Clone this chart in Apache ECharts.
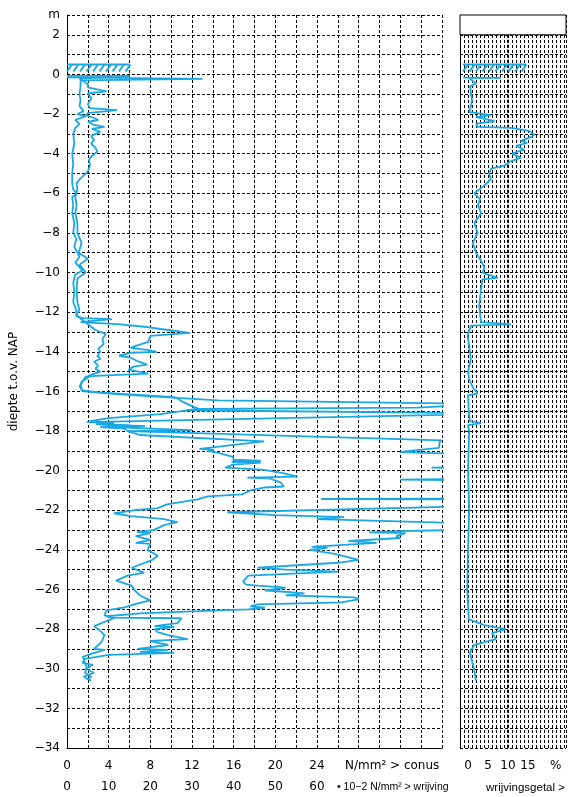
<!DOCTYPE html>
<html><head><meta charset="utf-8">
<script src="https://cdn.jsdelivr.net/npm/echarts@6/dist/echarts.min.js"></script>
<style>html,body{margin:0;padding:0;background:#fff}#c{width:569px;height:797px}</style>
</head><body><div id="c"></div>
<script>
// Conus (cone resistance, N/mm2) vs depth (m NAP)
const coneDepth = [-0.15,-0.22,-0.3,-0.6,-1.0,-1.3,-1.6,-1.85,-2.0,-2.1,-2.3,-2.5,-2.7,-3.0,-3.5,-4.0,-4.5,-5.0,-5.5,-5.8,-6.0,-6.2,-6.6,-7.0,-7.5,-8.0,-8.3,-8.7,-9.2,-9.5,-9.9,-10.1,-10.5,-11.0,-11.5,-11.9,-12.2,-12.3,-12.35,-12.5,-12.6,-12.75,-12.85,-13.05,-13.2,-13.5,-13.65,-13.8,-13.9,-14.0,-14.05,-14.2,-14.3,-14.5,-14.65,-14.75,-14.9,-15.1,-15.2,-15.25,-15.5,-15.75,-16.0,-16.15,-16.45,-16.65,-16.76,-16.82,-16.88,-16.95,-17.12,-17.55,-17.6,-17.65,-17.75,-17.8,-17.95,-18.0,-18.47,-18.5,-18.85,-19.05,-19.1,-19.2,-19.8,-19.85,-19.9,-20.4,-20.45,-20.5,-21.4,-21.43,-21.46,-21.75,-22.1,-22.25,-22.35,-22.45,-22.7,-22.95,-23.05,-23.12,-23.15,-23.3,-23.4,-23.55,-23.65,-23.85,-23.9,-24.0,-24.2,-24.5,-24.65,-24.9,-25.0,-25.1,-25.3,-25.6,-25.75,-25.8,-25.9,-26.05,-26.1,-26.2,-26.3,-26.4,-26.5,-26.65,-26.75,-26.85,-26.92,-27.0,-27.1,-27.2,-27.35,-27.42,-27.45,-27.7,-27.85,-27.9,-28.0,-28.15,-28.3,-28.5,-28.6,-28.8,-29.0,-29.05,-29.15,-29.2,-29.3,-29.5,-29.7,-29.8,-30.0,-30.2,-30.4,-30.6];
const coneValue = [0,13,1.3,1.3,1.2,1.3,1.2,1.6,1.0,1.8,0.8,1.2,0.8,0.6,0.7,0.5,0.6,0.5,0.5,0.6,0.9,0.5,0.6,0.5,0.7,0.6,0.9,0.7,1.2,0.8,1.5,0.8,0.6,0.7,0.6,0.9,0.9,1.5,4.3,1.3,4.8,7.7,9,11.8,8,7.8,6.9,6.1,7.7,8.6,6.1,5,6.1,6.9,7.7,6.4,5.9,7.8,3.2,1.8,1.5,1.2,1.6,5,14.5,42,36,33.6,12.8,11.5,42,1.9,4.5,2.8,7.5,4.2,12,5.8,36,35.8,35.7,32,34,42,42,35,42,42,32,42,42,24.4,42,42,15.4,20,26.6,24,42,42,32,29,32.5,31.6,32,27,29.7,23.5,25,23.3,25.7,28,26,18.3,21,26,17.4,16.9,17.2,18.3,21,19,20.6,22.8,21,27.6,28,26.3,18.3,17.6,19,17.4,12,7,3.8,4.2,11,10.6,8.4,10.3,8.4,8.7,9.7,11.6,8,9.7,6.8,9.7,7,10.3,4,1.7,1.5,2.5,1.8,2.6,1.6,2.3];

// Wrijving (sleeve friction, 10^-2 N/mm2) vs depth
const wrijvingDepth = [-0.07,-0.08,-0.2,-0.5,-0.65,-0.85,-0.95,-1.2,-1.5,-1.7,-1.8,-1.95,-2.05,-2.2,-2.3,-2.4,-2.55,-2.65,-2.75,-2.9,-3.1,-3.3,-3.5,-3.7,-3.9,-4.1,-4.3,-4.6,-4.9,-5.1,-5.3,-5.5,-5.8,-6.2,-6.6,-7.0,-7.5,-8.0,-8.5,-9.0,-9.3,-9.6,-10.0,-10.3,-11.0,-11.5,-11.9,-12.1,-12.25,-12.9,-13.1,-13.35,-13.6,-13.85,-14.0,-14.2,-14.35,-14.5,-14.7,-14.85,-15.0,-15.2,-15.35,-15.5,-15.7,-15.95,-16.05,-16.28,-16.32,-16.5,-16.88,-17.05,-17.15,-17.35,-17.5,-17.58,-17.65,-17.72,-17.8,-17.88,-18.0,-18.2,-18.52,-18.62,-18.9,-18.95,-19.0,-19.1,-19.3,-19.45,-19.5,-19.55,-19.6,-19.7,-19.85,-19.95,-20.1,-20.3,-20.35,-20.4,-20.6,-20.8,-20.85,-21.0,-21.1,-21.2,-21.3,-21.45,-21.7,-21.9,-22.0,-22.15,-22.3,-22.45,-22.6,-22.75,-23.0,-23.1,-23.15,-23.3,-23.5,-23.65,-23.7,-24.0,-24.3,-24.5,-24.9,-25.15,-25.3,-25.55,-25.8,-26.05,-26.3,-26.55,-26.7,-26.9,-27.05,-27.3,-27.45,-27.6,-27.85,-28.05,-28.3,-28.65,-29.0,-29.05,-29.25,-29.4,-29.7,-29.95,-30.2,-30.4,-30.55];
const wrijvingValue = [0,15,3,5,5,9.5,5,5.8,5,5.5,12,5,4.5,6.5,7.5,5,6.5,9,6,8,5.8,6.5,5.8,6.8,7.3,6,5.3,5.5,5,4,3,2.3,2.5,2,2.3,2,2.5,2.5,3.5,2.8,5,3,4.5,2.5,2.3,2.5,3,2.3,2.8,6.8,9.3,8.5,8.8,7.5,8,7.3,8,6.5,7.5,6.8,8,5.3,4.8,3.5,3.3,3.5,7.5,25,26.3,27.5,31.5,25.8,22.5,10,5.5,11.3,7,15,8,13.8,14.5,17.5,47.3,47.5,31.8,35.3,33.8,36.3,39.8,40,46.5,39.5,46.5,39.8,38,46.8,51.3,55.3,43.3,48.8,51.3,52,47.5,44,43,42,33.8,31.3,24,21.5,16,11.3,15.3,23.3,26.5,23.3,20.8,16.8,20,16.5,20,16.5,20,19.3,21.8,20.5,15.5,18.5,14.5,11.8,15.5,16.3,17.5,20,17,13.8,9.5,9,11.3,9.4,6.5,7.8,9,8.3,6.5,9,5.8,3.8,4.3,4.8,4.3,5.8,4.8];

// Wrijvingsgetal (friction ratio, %) vs depth
const ratioDepth = [-0.16,-0.17,-0.2,-0.3,-0.45,-0.6,-0.95,-1.3,-1.6,-1.9,-2.05,-2.15,-2.35,-2.5,-2.65,-2.7,-2.85,-2.95,-3.05,-3.15,-3.35,-3.45,-3.6,-3.8,-4.0,-4.2,-4.4,-4.6,-4.75,-5.0,-5.3,-5.6,-6.0,-6.3,-6.6,-7.0,-7.5,-8.0,-8.5,-9.0,-9.4,-9.77,-10.0,-10.27,-10.35,-10.9,-11.7,-12.5,-12.62,-12.68,-13.2,-13.7,-14.4,-15.0,-15.4,-15.8,-16.1,-16.2,-17.0,-17.5,-17.6,-17.7,-18.0,-20.0,-22.0,-24.0,-26.0,-27.5,-27.8,-28.0,-28.2,-28.5,-28.8,-29.2,-30.0,-30.6];
const ratioValue = [-1.2,8.2,0.3,0.3,2.0,0.5,0.75,1.0,0.75,0.3,5.75,2.0,6.6,2.0,2.4,10.75,15.3,15.0,16.6,15.8,13.2,14.8,12.0,14.0,11.0,13.2,10.5,9.1,5.8,5.3,5.7,4.1,1.6,3.0,2.5,3.3,1.6,2.4,1.2,2.0,3.25,4.1,3.6,7.4,3.6,3.2,2.8,3.25,10.75,0.75,-0.1,0.3,0.7,0.0,0.3,1.2,2.4,0.0,0.2,0.5,3.3,0.0,0.3,0.0,0.3,0.0,-0.2,0.2,4,9.5,6,7,1.5,0.5,1.5,2.0];

// Ground-level hatch markers [xFrom, xTo, topDepth, bottomDepth]
const hatchMain = [[0, 6, 0.5, 0.15]];
const hatchRatio = [[-1.25, 14.5, 0.5, 0.15]];

const depthMin = -34, depthMax = 3;
const coneTickLabels = [0,4,8,12,16,20,24];
const wrijvingTickLabels = [0,10,20,30,40,50,60];
const ratioTickLabels = [0,5,10,15];

const BLUE = '#1aa8e4';
const FONT = 'DejaVu Sans, Liberation Sans, Arial, sans-serif';
const FONT2 = 'Liberation Sans, Arial, sans-serif';
const zip = (xs, ys) => xs.map((x, i) => [x, ys[i]]);
const grid = { color:'#000', type:[3,2], width:1 };

function hatch(params, api) {
  const a = api.coord([api.value(0), api.value(2)]);
  const b = api.coord([api.value(1), api.value(3)]);
  const kids = [{ type:'line', shape:{x1:a[0], y1:a[1], x2:b[0], y2:a[1]}, style:{stroke:BLUE, lineWidth:2}}];
  for (let x = a[0]; x + 4 <= b[0]; x += 6.5) {
    kids.push({ type:'line', shape:{x1:x, y1:b[1], x2:x+5, y2:a[1]}, style:{stroke:BLUE, lineWidth:2}});
  }
  return { type:'group', children:kids };
}

const chart = echarts.init(document.getElementById('c'), null, {renderer:'canvas'});
chart.setOption({
  animation:false,
  backgroundColor:'#fff',
  textStyle:{fontFamily:FONT},
  grid:[
    {left:67, top:15, width:375, height:733},
    {left:460, top:15, width:106, height:733}
  ],
  xAxis:[
    {gridIndex:0, type:'value', min:0, max:36, interval:2, position:'bottom',
     axisLine:{show:true, onZero:false, lineStyle:{color:'#000', width:1}}, axisTick:{show:false},
     splitLine:{show:true, lineStyle:grid},
     axisLabel:{color:'#000', fontSize:12, margin:12, fontFamily:FONT,
       formatter:v => coneTickLabels.includes(v) ? String(v) : ''}},
    {gridIndex:0, type:'value', min:0, max:90, interval:10, position:'bottom', offset:21,
     axisLine:{show:false, onZero:false}, axisTick:{show:false}, splitLine:{show:false},
     axisLabel:{color:'#000', fontSize:12, margin:12, fontFamily:FONT,
       formatter:v => wrijvingTickLabels.includes(v) ? String(v) : ''}},
    {gridIndex:1, type:'value', min:-2, max:24.5, interval:1, position:'bottom',
     axisLine:{show:false, onZero:false}, axisTick:{show:false},
     splitLine:{show:true, lineStyle:grid},
     axisLabel:{color:'#000', fontSize:12, margin:12, fontFamily:FONT, showMaxLabel:false,
       formatter:v => ratioTickLabels.includes(v) ? String(v) : ''}}
  ],
  yAxis:[
    {gridIndex:0, type:'value', min:depthMin, max:depthMax, interval:1,
     name:'diepte t.o.v. NAP', nameLocation:'middle', nameGap:47, nameRotate:90,
     nameTextStyle:{color:'#000', fontSize:12, fontFamily:FONT},
     axisLine:{show:true, onZero:false, lineStyle:{color:'#000', width:1}}, axisTick:{show:false},
     splitLine:{show:true, lineStyle:grid},
     axisLabel:{color:'#000', fontSize:12, margin:7, fontFamily:FONT,
       formatter:v => v === depthMax ? 'm' : (v % 2 === 0 ? (v < 0 ? '\u2212' + Math.abs(v) : String(v)) : '')}},
    {gridIndex:1, type:'value', min:depthMin, max:depthMax, interval:1,
     axisLine:{show:true, onZero:false, lineStyle:{color:'#000', width:1}}, axisTick:{show:false},
     splitLine:{show:true, lineStyle:grid}, axisLabel:{show:false}}
  ],
  series:[
    {name:'conus', type:'line', xAxisIndex:0, yAxisIndex:0, data:zip(coneValue, coneDepth),
     showSymbol:false, clip:true, lineStyle:{color:BLUE, width:1.8}, z:5},
    {name:'wrijving', type:'line', xAxisIndex:1, yAxisIndex:0, data:zip(wrijvingValue, wrijvingDepth),
     showSymbol:false, clip:true, lineStyle:{color:BLUE, width:1.8}, z:5},
    {name:'wrijvingsgetal', type:'line', xAxisIndex:2, yAxisIndex:1, data:zip(ratioValue, ratioDepth),
     showSymbol:false, clip:true, lineStyle:{color:BLUE, width:1.8}, z:5,
     markArea:{silent:true, itemStyle:{color:'#fff', borderColor:'#000', borderWidth:1},
       data:[[{xAxis:-2, yAxis:3},{xAxis:24.5, yAxis:2}]]},
     markLine:{silent:true, symbol:'none', label:{show:false},
       lineStyle:{color:'#000', type:[3,2], width:2},
       data:[[{coord:[10,2]},{coord:[10,-34]}]]}},
    {type:'custom', xAxisIndex:0, yAxisIndex:0, renderItem:hatch, data:hatchMain,
     encode:{x:[0,1], y:[2,3]}, z:6},
    {type:'custom', xAxisIndex:2, yAxisIndex:1, renderItem:hatch, data:hatchRatio,
     encode:{x:[0,1], y:[2,3]}, z:6}
  ],
  graphic:[
    {type:'text', left:345, top:760, style:{text:'N/mm² > conus', font:'12px ' + FONT, fill:'#000'}},
    {type:'text', left:550, top:760, style:{text:'%', font:'12px ' + FONT, fill:'#000'}},
    {type:'text', left:337, top:782, style:{text:'• 10−2 N/mm² > wrijving', font:'10.5px ' + FONT2, fill:'#000'}},
    {type:'text', left:486, top:782, style:{text:'wrijvingsgetal >', font:'11.5px ' + FONT2, fill:'#000'}}
  ]
});
</script></body></html>
